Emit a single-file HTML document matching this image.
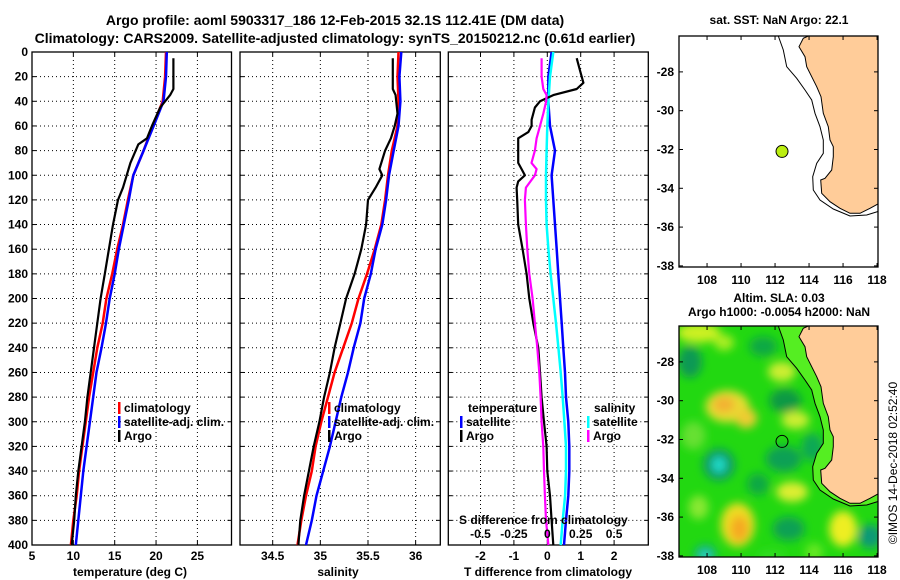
<!DOCTYPE html>
<html><head><meta charset="utf-8"><title>Argo profile</title>
<style>
html,body{margin:0;padding:0;background:#fff;}
svg{display:block;font-family:"Liberation Sans",Arial,sans-serif;font-weight:bold;}
text{fill:#000;}
</style></head>
<body>
<svg id="chart" width="900" height="580" viewBox="0 0 900 580" xmlns="http://www.w3.org/2000/svg">
<defs>
<filter id="blur" x="-50%" y="-50%" width="200%" height="200%"><feGaussianBlur stdDeviation="4.5"/></filter>
<clipPath id="mapclip"><rect x="679" y="326" width="199" height="231"/></clipPath>
</defs>
<text x="335" y="25" font-size="14" text-anchor="middle">Argo profile: aoml 5903317_186 12-Feb-2015 32.1S 112.41E (DM data)</text>
<text x="335" y="43" font-size="14" text-anchor="middle">Climatology: CARS2009. Satellite-adjusted climatology: synTS_20150212.nc (0.61d earlier)</text>
<g id="g"></g>
</svg>
<script>
// ---------- data ----------
const depthTicks = [0,20,40,60,80,100,120,140,160,180,200,220,240,260,280,300,320,340,360,380,400];
const tempTicks = [5,10,15,20,25];
const salTicks = [34.5,35,35.5,36];
const tdiffTicks = [-2,-1,0,1,2];
const sdiffTicks = [-0.5,-0.25,0,0.25,0.5];
const sdiffTickLabels = ["-0.5","-0.25","0","0.25","0.5"];

const stdDepth = [0,20,40,60,80,100,120,140,160,180,200,220,240,260,280,300,320,340,360,380,400];
const climTemp = [21.2,21.1,20.8,19.6,18.5,17.25,16.6,16.0,15.3,14.7,14.0,13.55,12.9,12.4,11.9,11.5,11.1,10.7,10.4,10.0,9.7];
const satTemp  = [21.3,21.2,20.9,19.7,18.5,17.25,16.7,16.1,15.5,15.0,14.4,13.95,13.4,12.8,12.4,12.0,11.6,11.2,10.9,10.6,10.3];
const climSal  = [35.82,35.81,35.82,35.81,35.75,35.71,35.68,35.64,35.57,35.49,35.40,35.33,35.24,35.15,35.08,35.01,34.95,34.91,34.85,34.80,34.76];
const satSal   = [35.85,35.83,35.84,35.82,35.77,35.72,35.69,35.65,35.58,35.53,35.46,35.42,35.35,35.29,35.22,35.16,35.10,35.03,34.96,34.91,34.85];

const argoTDepth = [5,30,35,45,60,70,75,90,110,120,140,160,180,200,220,240,260,280,300,320,340,360,380,400];
const argoTemp   = [22.1,22.1,21.7,20.5,19.5,18.9,17.85,16.9,16.0,15.4,14.8,14.3,13.8,13.3,12.9,12.5,12.1,11.7,11.4,11.0,10.6,10.3,10.1,9.8];
const argoSDepth = [5,30,35,50,60,70,80,95,100,110,120,140,160,180,200,220,240,260,280,300,320,340,360,380,400];
const argoSal    = [35.76,35.76,35.79,35.81,35.78,35.74,35.68,35.62,35.65,35.58,35.50,35.48,35.43,35.36,35.27,35.21,35.15,35.10,35.04,34.99,34.93,34.88,34.83,34.79,34.77];

const satTDiff = [0.13,0.03,0.03,0.08,0.23,0.13,0.18,0.23,0.28,0.33,0.38,0.43,0.48,0.53,0.56,0.63,0.66,0.66,0.63,0.56,0.5];
const satSDiff = [0.045,0.02,0.008,0,-0.005,-0.01,-0.01,-0.005,0.008,0.025,0.045,0.065,0.083,0.1,0.115,0.128,0.14,0.14,0.133,0.115,0.1];
const argoTDDepth = [5,15,25,30,35,40,45,55,60,65,70,80,90,95,100,105,110,120,140,160,180,200,220,240,260,280,300,320,340,360,380,400];
const argoTDiff   = [0.88,0.98,1.08,0.88,0.18,-0.22,-0.37,-0.47,-0.47,-0.57,-0.87,-0.87,-0.87,-0.77,-0.67,-0.87,-0.92,-0.9,-0.87,-0.74,-0.62,-0.54,-0.42,-0.27,-0.22,-0.17,-0.10,-0.02,0,0.08,0.13,0.18];
const argoSDDepth = [5,20,30,35,40,50,60,70,80,90,95,100,110,120,140,160,180,200,220,240,260,280,300,320,340,360,380,400];
const argoSDiff   = [-0.043,-0.043,-0.03,-0.005,-0.008,-0.03,-0.055,-0.08,-0.093,-0.118,-0.08,-0.093,-0.16,-0.168,-0.16,-0.15,-0.135,-0.11,-0.093,-0.075,-0.06,-0.05,-0.043,-0.03,-0.025,-0.018,-0.01,0.008];

const lonTicks = [108,110,112,114,116,118];
const latTicks = [-28,-30,-32,-34,-36,-38];
const argoLon = 112.41, argoLat = -32.1;

// ---------- scales ----------
const yD = d => 52 + d * 493 / 400;
const xT = t => 32 + (t - 5) * 8.27;
const xS = s => 240 + (s - 34.157) * 95.3;
const xDT = t => 547.3 + t * 33.4;
const xDS = s => 547.3 + s * 133.6;
const lonX = lon => 679 + (lon - 106.35) * 17;
const latY = lat => 36 + (-26.15 - lat) * 19.4;

const NS = "http://www.w3.org/2000/svg";
const root = document.getElementById('g');
function el(tag, attrs, parent) {
  const e = document.createElementNS(NS, tag);
  for (const k in attrs) e.setAttribute(k, attrs[k]);
  (parent || root).appendChild(e);
  return e;
}
function txt(s, x, y, size, anchor, parent) {
  const t = el('text', {x: x, y: y, 'font-size': size, 'text-anchor': anchor || 'middle'}, parent);
  t.textContent = s;
  return t;
}

function panel(x0, x1, xticks, xf, labels, name) {
  const g = el('g', {});
  
  
  depthTicks.forEach(d => {
    if (d > 0 && d < 400) {
      const l = el('line', {x1: x0, x2: x1, y1: yD(d), y2: yD(d), stroke: '#000', 'stroke-width': 1, 'stroke-dasharray': '1,3'}, g);
      
      
    }
    const tl = el('line', {x1: x0, x2: x0 + 4, y1: yD(d), y2: yD(d), stroke: '#000'}, g);
    
    
    const tr = el('line', {x1: x1 - 4, x2: x1, y1: yD(d), y2: yD(d), stroke: '#000'}, g);
    
    
  });
  xticks.forEach((v, i) => {
    const x = xf(v);
    if (x > x0 + 1 && x < x1 - 1) {
      const l = el('line', {x1: x, x2: x, y1: yD(0), y2: yD(400), stroke: '#000', 'stroke-width': 1, 'stroke-dasharray': '1,3'}, g);
      
      
    }
    const t1 = el('line', {x1: x, x2: x, y1: yD(0), y2: yD(0) + 4, stroke: '#000'}, g);
    
    
    const t2 = el('line', {x1: x, x2: x, y1: yD(400) - 4, y2: yD(400), stroke: '#000'}, g);
    
    
    if (labels) {
      const tx = txt(labels[i], x, 560, 12, 'middle', g);
      
      
    }
  });
  const r = el('rect', {x: x0, y: yD(0), width: x1 - x0, height: yD(400) - yD(0), fill: 'none', stroke: '#000', 'stroke-width': 1.3}, g);
  
  
  return g;
}

function series(depths, vals, xf, color, name, w) {
  const pts = depths.map((d, i) => xf(vals[i]).toFixed(1) + ',' + yD(d).toFixed(1)).join(' ');
  const p = el('polyline', {points: pts, fill: 'none', stroke: color, 'stroke-width': w || 2, 'stroke-linejoin': 'round'});
  
  
}

function legendEntry(x, y, color, label, name) {
  const b = el('rect', {x: x, y: y - 10, width: 2.5, height: 12, fill: color});
  
  
  const t = txt(label, x + 6, y, 12, 'start');
  
  
}

// depth labels
depthTicks.forEach(d => {
  const t = txt(String(d), 28, yD(d) + 4, 12, 'end');
  
  
});

// panel 1: temperature
panel(32, 231.5, tempTicks, xT, tempTicks.map(String), 'temperature-panel');
series(stdDepth, climTemp, xT, '#ff0000', 'climatology-temperature-line', 2.5);
series(stdDepth, satTemp, xT, '#0000ff', 'satellite-temperature-line', 2.5);
series(argoTDepth, argoTemp, xT, '#000000', 'argo-temperature-line', 2.2);
legendEntry(118, 412, '#ff0000', 'climatology', 'legend-climatology');
legendEntry(118, 426, '#0000ff', 'satellite-adj. clim.', 'legend-satellite-adj');
legendEntry(118, 440, '#000000', 'Argo', 'legend-argo');
let t = txt('temperature (deg C)', 130, 576, 12, 'middle');



// panel 2: salinity
panel(240, 440.3, salTicks, xS, salTicks.map(String), 'salinity-panel');
series(stdDepth, climSal, xS, '#ff0000', 'climatology-salinity-line', 2.5);
series(stdDepth, satSal, xS, '#0000ff', 'satellite-salinity-line', 2.5);
series(argoSDepth, argoSal, xS, '#000000', 'argo-salinity-line', 2.2);
legendEntry(328, 412, '#ff0000', 'climatology', 'legend-climatology-sal');
legendEntry(328, 426, '#0000ff', 'satellite-adj. clim.', 'legend-satellite-adj-sal');
legendEntry(328, 440, '#000000', 'Argo', 'legend-argo-sal');
t = txt('salinity', 338, 576, 12, 'middle');



// panel 3: differences
panel(448.3, 648.3, tdiffTicks, xDT, tdiffTicks.map(String), 'difference-panel');
series(stdDepth, satTDiff, xDT, '#0000ff', 'satellite-tdiff-line', 2.5);
series(stdDepth, satSDiff, xDS, '#00ffff', 'satellite-sdiff-line', 2.5);
series(argoTDDepth, argoTDiff, xDT, '#000000', 'argo-tdiff-line', 2.2);
series(argoSDDepth, argoSDiff, xDS, '#ff00ff', 'argo-sdiff-line', 2.2);
t = txt('temperature', 468, 412, 12, 'start');


legendEntry(460, 426, '#0000ff', 'satellite', 'legend-temp-satellite');
legendEntry(460, 440, '#000000', 'Argo', 'legend-temp-argo');
t = txt('salinity', 594, 412, 12, 'start');


legendEntry(587, 426, '#00ffff', 'satellite', 'legend-sal-satellite');
legendEntry(587, 440, '#ff00ff', 'Argo', 'legend-sal-argo');
t = txt('S difference from climatology', 459, 524, 12, 'start');


sdiffTicks.forEach((v, i) => {
  const s = txt(sdiffTickLabels[i], xDS(v), 538, 12, 'middle');
  
  
});
t = txt('T difference from climatology', 548, 576, 12, 'middle');



// ---------- maps ----------
const landPts = "799,46.7 803.3,38.3 808.3,36 878,36 878,204 870,208.3 860,213.3 850,213.3 840,208.3 830,201.7 821.7,193.3 820.7,180 825,178.3 831.7,170 833.3,156.7 833.3,146.7 830,140 828.3,126.7 823.3,113.3 821,96.7 816.7,86.7 811.7,76.7 806.7,66.7 805,56.7";
const shelfPts = "778.3,36 783.3,50 786.7,66.7 796.7,78.3 805,90 811.7,100 815,113.3 820,126.7 823.3,140 823.3,153.3 816.7,163.3 812.7,176.7 813.3,190 820,200 833.3,209 850,216 866.7,215 878,211.5";

function drawMap(dy, name, sla) {
  const g = el('g', {transform: 'translate(0,' + dy + ')'});
  
  
  const bg = el('rect', {x: 679, y: 36, width: 199, height: 231, fill: sla ? '#22d811' : '#fff'}, g);
  
  
  if (sla) {
    const blobs = el('g', {filter: 'url(#blur)', 'clip-path': 'url(#mapclip)', transform: 'translate(0,' + (-dy) + ')'}, g);
    
    
    const inner = el('g', {transform: 'translate(0,' + dy + ')'}, blobs);
    const bl = [
      [107.5,-26.5,22,10,'#ccf022'],[109,-27,10,8,'#aaee22'],[107,-28,12,16,'#119955'],[111.3,-27.2,14,10,'#11a844'],
      [112.4,-28.5,14,10,'#ccee33'],[112.6,-30,16,12,'#119944'],[109.2,-30.3,22,16,'#e8dd33'],
      [109,-30.2,11,8,'#f3b030'],[110.3,-30.9,11,10,'#eecc33'],[113.2,-31,14,9,'#ccee33'],
      [107.2,-31.8,12,14,'#66e033'],[108.7,-33.3,16,16,'#119966'],[108.7,-33.3,7,8,'#22ddcc'],
      [112.5,-33,18,13,'#11a055'],[114.2,-32.4,11,14,'#11a855'],[111,-34.3,11,11,'#11a844'],
      [113,-34.7,16,10,'#ddee33'],[109.8,-36.4,17,22,'#eedd22'],[109.9,-36.6,9,13,'#f5a820'],
      [107.5,-35.5,10,12,'#88e830'],[112.8,-36.6,16,12,'#11a055'],[116,-36.6,14,18,'#eeee22'],[117.6,-37,12,12,'#119977'],
      [107.9,-37.9,11,9,'#11aa88'],[107.9,-38,6,5,'#33ddcc'],[111.8,-38,14,6,'#33dd22'],[114.3,-37.8,9,9,'#66e822']
    ];
    bl.forEach(b => {
      const e = el('ellipse', {cx: lonX(b[0]), cy: latY(b[1]), rx: b[2], ry: b[3], fill: b[4]}, inner);
      
      
    });
    const sh = el('polygon', {points: shelfPts + ' 878,36', fill: '#55ee22'}, g);
    
    
  }
  const shelf = el('polyline', {points: shelfPts, fill: 'none', stroke: '#000', 'stroke-width': 1}, g);
  
  
  const land = el('polygon', {points: landPts, fill: '#ffcc99', stroke: '#000', 'stroke-width': 1}, g);
  
  
  const c = el('circle', {cx: lonX(argoLon), cy: latY(argoLat), r: 6, fill: sla ? 'none' : '#bbee11', stroke: '#000', 'stroke-width': 1}, g);
  
  
  const fr = el('rect', {x: 679, y: 36, width: 199, height: 231, fill: 'none', stroke: '#000', 'stroke-width': 1.3}, g);
  
  
  lonTicks.forEach(v => {
    const x = lonX(v);
    const a = el('line', {x1: x, x2: x, y1: 36, y2: 40, stroke: '#000'}, g);
    
    
    const b = el('line', {x1: x, x2: x, y1: 263, y2: 267, stroke: '#000'}, g);
    
    
    const l = txt(String(v), x, 284, 12, 'middle', g);
    
    
  });
  latTicks.forEach(v => {
    const y = latY(v);
    const a = el('line', {x1: 679, x2: 683, y1: y, y2: y, stroke: '#000'}, g);
    
    
    const b = el('line', {x1: 874, x2: 878, y1: y, y2: y, stroke: '#000'}, g);
    
    
    const l = txt(String(v), 674, y + 4, 12, 'end', g);
    
    
  });
}
drawMap(0, 'sst-map', false);
drawMap(290, 'sla-map', true);

t = txt('sat. SST: NaN Argo: 22.1', 779, 24, 12, 'middle');


t = txt('Altim. SLA: 0.03', 779, 302, 12, 'middle');


t = txt('Argo h1000: -0.0054 h2000: NaN', 779, 316, 12, 'middle');


t = txt('©IMOS 14-Dec-2018 02:52:40', 0, 0, 12, 'middle');
t.setAttribute('transform', 'translate(897,463) rotate(-90)');
t.setAttribute('font-weight', 'normal');


</script>
</body></html>
